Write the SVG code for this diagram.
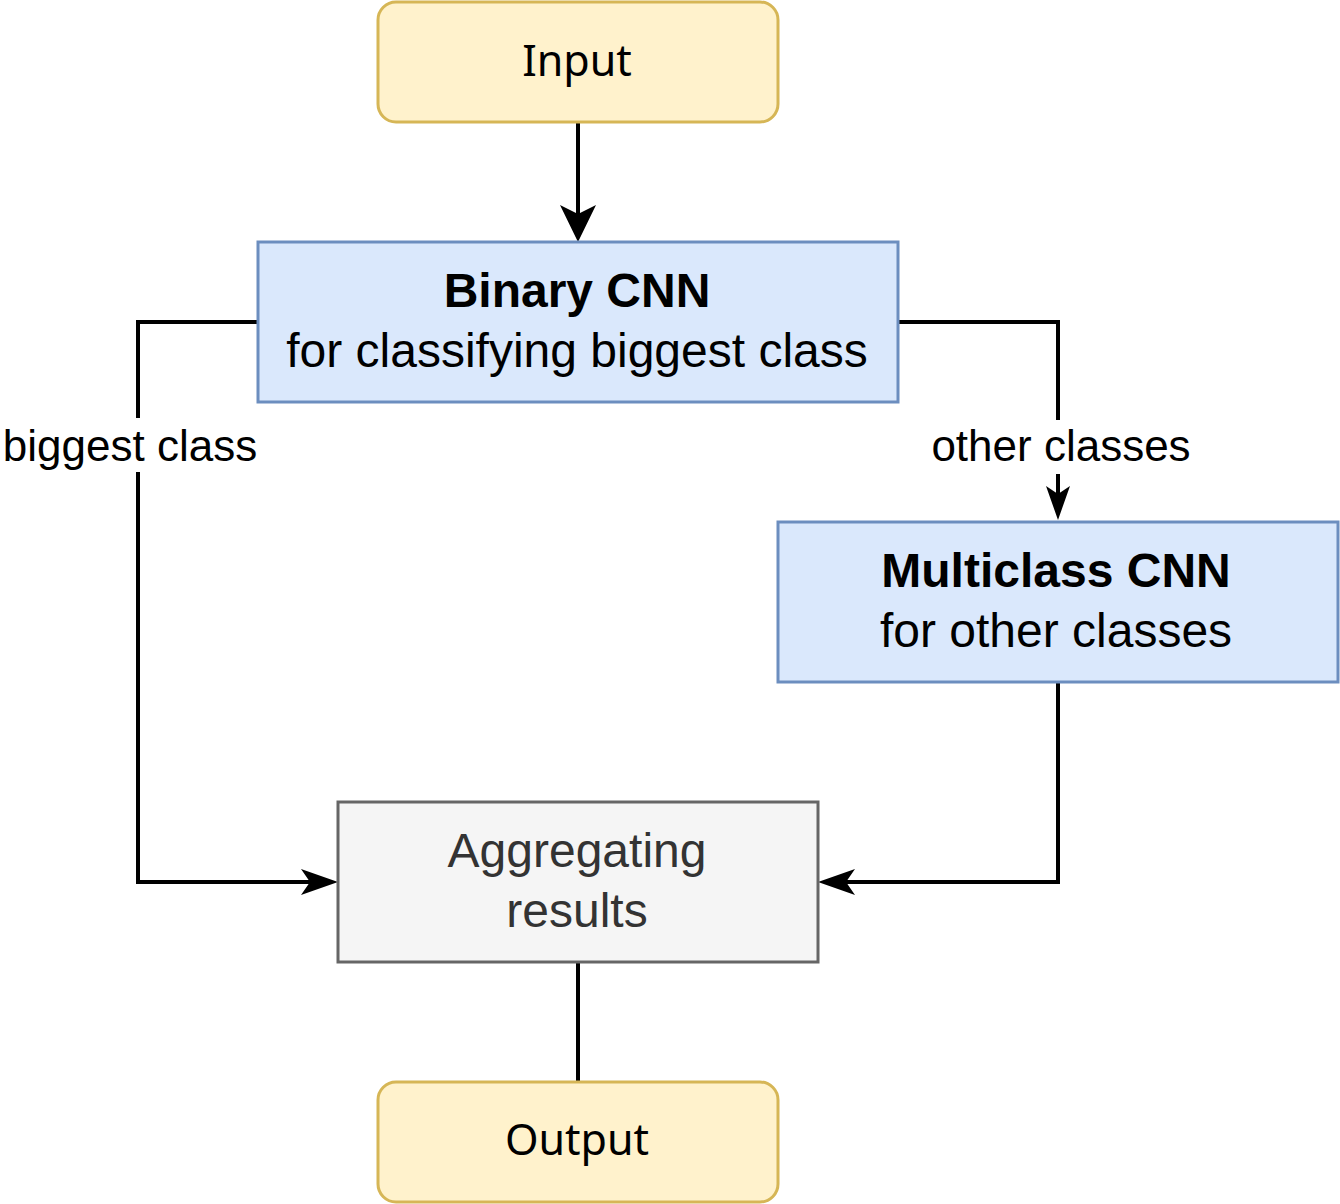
<svg xmlns="http://www.w3.org/2000/svg" width="1340" height="1204" viewBox="0 0 1340 1204">
  <defs>
    <style>
      .term { fill: #fff2cc; stroke: #d6b656; stroke-width: 3; }
      .proc { fill: #dae8fc; stroke: #6c8ebf; stroke-width: 3; }
      .agg { fill: #f5f5f5; stroke: #666666; stroke-width: 3; }
      .t { font-family: "Liberation Sans", Arial, sans-serif; font-size: 48px; fill: #000000; text-anchor: middle; }
      .b { font-weight: bold; }
      .seg { font-family: "Noto Sans", "Open Sans", sans-serif; font-size: 43px; fill: #000000; text-anchor: middle; }
      .grey { fill: #333333; }
      .lbl { font-family: "Liberation Sans", Arial, sans-serif; font-size: 44px; fill: #000000; text-anchor: middle; }
      .edge { fill: none; stroke: #000000; stroke-width: 4; }
      .head { fill: #000000; stroke: none; }
    </style>
  </defs>

  <g id="connectors">
    <path class="edge" d="M578 122 L578 214"/>
    <path class="head" d="M578 242 L560 205 L578 214 L596 205 Z"/>

    <path class="edge" d="M257 322 L138 322 L138 882 L310 882"/>
    <path class="head" d="M338 882 L301 869 L310 882 L301 895 Z"/>
    <rect x="2" y="418" width="256" height="54" fill="#ffffff"/>
    <text class="lbl" x="130" y="461">biggest class</text>

    <path class="edge" d="M899 322 L1058 322 L1058 494"/>
    <path class="head" d="M1058 520 L1046 486 L1058 494 L1070 486 Z"/>
    <rect x="931" y="420" width="262" height="54" fill="#ffffff"/>
    <text class="lbl" x="1061" y="461">other classes</text>

    <path class="edge" d="M1058 683 L1058 882 L846 882"/>
    <path class="head" d="M818 882 L855 869 L846 882 L855 895 Z"/>

    <path class="edge" d="M578 963 L578 1081"/>
  </g>

  <g id="input">
    <rect class="term" x="378" y="2" width="400" height="120" rx="18" ry="18"/>
    <text class="seg" x="577" y="76">Input</text>
  </g>

  <g id="binary-cnn">
    <rect class="proc" x="258" y="242" width="640" height="160"/>
    <text class="t b" x="577" y="307">Binary CNN</text>
    <text class="t" x="577" y="367">for classifying biggest class</text>
  </g>

  <g id="multiclass-cnn">
    <rect class="proc" x="778" y="522" width="560" height="160"/>
    <text class="t b" x="1056" y="587">Multiclass CNN</text>
    <text class="t" x="1056" y="647">for other classes</text>
  </g>

  <g id="aggregating">
    <rect class="agg" x="338" y="802" width="480" height="160"/>
    <text class="t grey" x="577" y="867">Aggregating</text>
    <text class="t grey" x="577" y="927">results</text>
  </g>

  <g id="output">
    <rect class="term" x="378" y="1082" width="400" height="120" rx="18" ry="18"/>
    <text class="seg" x="577" y="1155">Output</text>
  </g>
</svg>
